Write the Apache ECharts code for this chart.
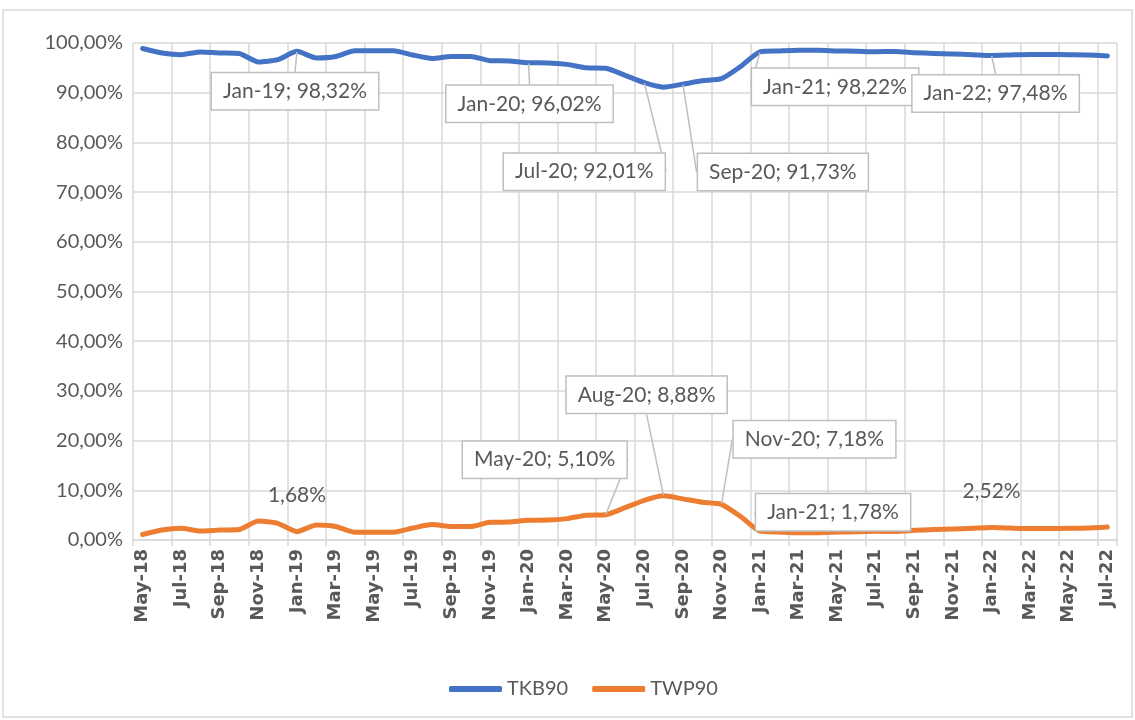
<!DOCTYPE html>
<html lang="en">
<head>
<meta charset="UTF-8">
<script src="https://cdn.jsdelivr.net/npm/echarts@6.0.0/dist/echarts.min.js"></script>
<title>TKB90 / TWP90</title>
</head>
<body style="margin:0;background:#fff">
<div id="main" style="width:1135px;height:720px;"></div>
<script type="text/javascript">
// months, May-18 .. Jul-22
var categories = ['May-18','Jun-18','Jul-18','Aug-18','Sep-18','Oct-18','Nov-18','Dec-18',
    'Jan-19','Feb-19','Mar-19','Apr-19','May-19','Jun-19','Jul-19','Aug-19','Sep-19','Oct-19','Nov-19','Dec-19',
    'Jan-20','Feb-20','Mar-20','Apr-20','May-20','Jun-20','Jul-20','Aug-20','Sep-20','Oct-20','Nov-20','Dec-20',
    'Jan-21','Feb-21','Mar-21','Apr-21','May-21','Jun-21','Jul-21','Aug-21','Sep-21','Oct-21','Nov-21','Dec-21',
    'Jan-22','Feb-22','Mar-22','Apr-22','May-22','Jun-22','Jul-22'];

// values in %
var tkb90 = [98.90, 98.00, 97.65, 98.20, 98.00, 97.90, 96.20, 96.65,
    98.32, 97.00, 97.30, 98.45, 98.45, 98.45, 97.60, 96.90, 97.30, 97.30, 96.45, 96.40,
    96.02, 96.00, 95.70, 95.00, 94.90, 93.50, 92.01, 91.12, 91.73, 92.40, 92.82, 95.30,
    98.22, 98.40, 98.55, 98.55, 98.40, 98.35, 98.25, 98.30, 98.05, 97.90, 97.80, 97.65,
    97.48, 97.60, 97.70, 97.70, 97.65, 97.60, 97.40];

var twp90 = [1.10, 2.00, 2.35, 1.80, 2.00, 2.10, 3.80, 3.35,
    1.68, 3.00, 2.70, 1.55, 1.55, 1.55, 2.40, 3.10, 2.70, 2.70, 3.55, 3.60,
    3.98, 4.00, 4.30, 5.00, 5.10, 6.50, 7.99, 8.88, 8.27, 7.60, 7.18, 4.70,
    1.78, 1.60, 1.45, 1.45, 1.60, 1.65, 1.75, 1.70, 1.95, 2.10, 2.20, 2.35,
    2.52, 2.40, 2.30, 2.30, 2.35, 2.40, 2.60];

// which points carry a callout
var tkbCallouts = ['Jan-19', 'Jan-20', 'Jul-20', 'Sep-20', 'Jan-21', 'Jan-22'];
var twpCallouts = ['May-20', 'Aug-20', 'Nov-20', 'Jan-21'];
var twpPlain = ['Jan-19', 'Jan-22'];

// label offsets from the point (px)
var tkbShift = { 'Jan-19': [-2, 40], 'Jan-20': [1, 41], 'Jul-20': [-60, 89], 'Sep-20': [100, 88], 'Jan-21': [75, 35], 'Jan-22': [4, 38] };
var twpShift = { 'May-20': [-61, -55], 'Aug-20': [-17, -101], 'Nov-20': [93, -65], 'Jan-21': [73, -19], 'Jan-19': [0, -36], 'Jan-22': [0, -36] };

var grey = '#595959';
var font = 'Lato';

function pct(v) {
    return v.toFixed(2).replace('.', ',') + '%';
}

var boxLabel = {
    show: true,
    position: 'inside',
    formatter: function (p) { return p.name + '; ' + pct(p.value); },
    color: grey,
    fontFamily: font,
    fontSize: 21,
    backgroundColor: '#fff',
    borderColor: '#bfbfbf',
    borderWidth: 1.5,
    padding: [8, 11, 7, 11]
};
var plainLabel = {
    show: true,
    position: 'inside',
    formatter: function (p) { return pct(p.value); },
    color: grey,
    fontFamily: font,
    fontSize: 21
};
var guide = { show: true, lineStyle: { color: '#bfbfbf', width: 1.5 } };

var tkbData = tkb90.map(function (v, i) {
    if (tkbCallouts.indexOf(categories[i]) >= 0) {
        return { value: v, label: boxLabel, labelLine: guide };
    }
    return v;
});
var twpData = twp90.map(function (v, i) {
    if (twpCallouts.indexOf(categories[i]) >= 0) {
        return { value: v, label: boxLabel, labelLine: guide };
    }
    if (twpPlain.indexOf(categories[i]) >= 0) {
        return { value: v, label: plainLabel };
    }
    return v;
});

function shifter(table) {
    return function (p) {
        var s = table[categories[p.dataIndex]];
        if (!s) return {};
        return { dx: s[0], dy: s[1] };
    };
}

var myChart = echarts.init(document.getElementById('main'));

var option = {
    animation: false,
    graphic: [{
        type: 'rect',
        shape: { x: 3, y: 10, width: 1129, height: 707 },
        style: { fill: 'none', stroke: '#d9d9d9', lineWidth: 1.5 },
        silent: true
    }],
    grid: { left: 133, right: 18, top: 43, bottom: 180 },
    legend: {
        data: ['TKB90', 'TWP90'],
        top: 674,
        left: 444,
        icon: 'roundRect',
        itemWidth: 53,
        itemHeight: 6,
        itemGap: 24,
        textStyle: { color: grey, fontFamily: font, fontSize: 20 }
    },
    xAxis: {
        type: 'category',
        data: categories,
        boundaryGap: true,
        axisLine: { lineStyle: { color: '#d9d9d9', width: 1.5 } },
        axisTick: { show: true, interval: 1, length: 6, lineStyle: { color: '#d9d9d9', width: 1.5 } },
        axisLabel: {
            interval: 1,
            rotate: 90,
            margin: 9,
            color: grey,
            fontFamily: 'DejaVu Sans',
            fontWeight: 'bold',
            fontSize: 18
        },
        splitLine: { show: true, interval: 1, lineStyle: { color: '#d9d9d9', width: 1.5 } }
    },
    yAxis: {
        type: 'value',
        min: 0,
        max: 100,
        interval: 10,
        axisLine: { show: false },
        axisTick: { show: false },
        axisLabel: {
            margin: 10,
            color: grey,
            fontFamily: font,
            fontSize: 20,
            formatter: function (v) { return pct(v); }
        },
        splitLine: { lineStyle: { color: '#d9d9d9', width: 1.5 } }
    },
    series: [
        {
            name: 'TKB90',
            type: 'line',
            data: tkbData,
            smooth: 0.2,
            symbol: 'circle',
            symbolSize: 1,
            showSymbol: true,
            itemStyle: { color: '#4472C4' },
            lineStyle: { color: '#4472C4', width: 5, cap: 'round', join: 'round' },
            labelLayout: shifter(tkbShift)
        },
        {
            name: 'TWP90',
            type: 'line',
            data: twpData,
            smooth: 0.2,
            symbol: 'circle',
            symbolSize: 1,
            showSymbol: true,
            itemStyle: { color: '#ED7D31' },
            lineStyle: { color: '#ED7D31', width: 5, cap: 'round', join: 'round' },
            labelLayout: shifter(twpShift)
        }
    ]
};

myChart.setOption(option);
</script>
</body>
</html>
